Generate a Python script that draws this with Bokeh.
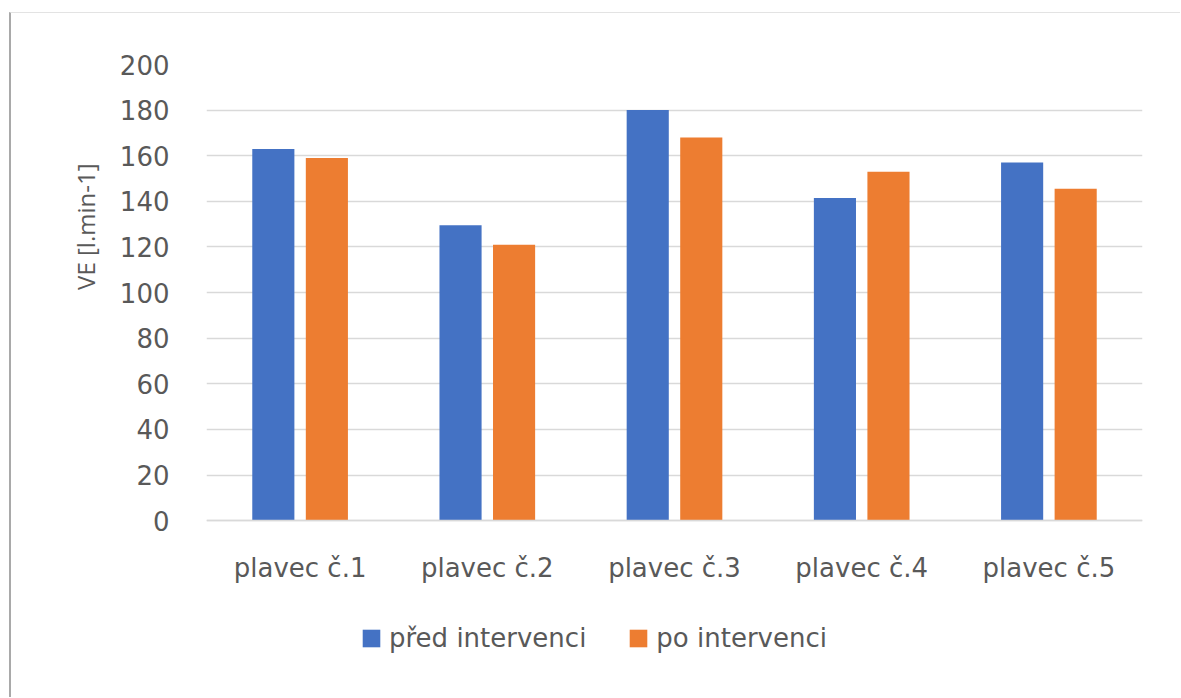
from bokeh.plotting import figure
from bokeh.models import (ColumnDataSource, FactorRange, Range1d, FixedTicker,
                          Legend, LegendItem, Title)
from bokeh.transform import dodge
from bokeh.embed import file_html
from bokeh.resources import INLINE

# VE values per swimmer, before and after the intervention
swimmers = ["plavec č.1", "plavec č.2", "plavec č.3", "plavec č.4", "plavec č.5"]
pred_intervenci = [163, 129.5, 180, 141.5, 157]
po_intervenci = [159, 121, 168, 153, 145.5]
series_labels = ["před intervenci", "po intervenci"]
y_ticks = [0, 20, 40, 60, 80, 100, 120, 140, 160, 180, 200]
y_title = "VE [l.min-1]"

BLUE = "#4472C4"
ORANGE = "#ED7D31"
TEXT = "#595959"
GRID = "#d9d9d9"
FONT = "DejaVu Sans"
FONT_SIZE = "26px"

source = ColumnDataSource(dict(x=swimmers, pred=pred_intervenci, po=po_intervenci))

# the frame reaches down to the bottom edge so the category labels and the
# legend can live inside it, under the zero line
p = figure(
    x_range=FactorRange(*swimmers, range_padding=0),
    y_range=Range1d(-78, 200),
    width=1171, height=685,
    output_backend="svg", toolbar_location=None,
    min_border_left=195, min_border_right=40,
    min_border_top=51, min_border_bottom=0,
)
p.styles = {
    "margin-left": "9px",
    "margin-top": "12px",
    "border-left": "2px solid #a9a9a9",
    "border-top": "1px solid #e3e3e3",
}
p.outline_line_color = None
p.background_fill_color = "white"
p.border_fill_color = "white"

r_pred = p.vbar(x=dodge("x", -0.143, range=p.x_range), top="pred", width=0.225,
                source=source, color=BLUE, line_color=None)
r_po = p.vbar(x=dodge("x", 0.143, range=p.x_range), top="po", width=0.225,
              source=source, color=ORANGE, line_color=None)

# grid
p.xgrid.grid_line_color = None
p.ygrid.ticker = FixedTicker(ticks=y_ticks)
p.ygrid.grid_line_color = GRID
p.ygrid.grid_line_width = 1.5

# y axis
p.yaxis.ticker = FixedTicker(ticks=y_ticks)
p.yaxis.axis_line_color = None
p.yaxis.major_tick_line_color = None
p.yaxis.minor_tick_line_color = None
p.yaxis.major_label_text_font = FONT
p.yaxis.major_label_text_font_size = FONT_SIZE
p.yaxis.major_label_text_color = TEXT
p.yaxis.major_label_standoff = 31

# y axis title
y_label = Title(text=y_title, align="right", offset=99, standoff=29,
                text_font="Open Sans", text_font_style="normal",
                text_font_size="24px", text_color=TEXT)
p.add_layout(y_label, "left")

# x axis drawn on the zero line
p.xaxis.fixed_location = 0
p.xaxis.axis_line_color = GRID
p.xaxis.axis_line_width = 1.5
p.xaxis.major_tick_line_color = None
p.xaxis.minor_tick_line_color = None
p.xaxis.major_label_text_font = FONT
p.xaxis.major_label_text_font_size = FONT_SIZE
p.xaxis.major_label_text_color = TEXT
p.xaxis.major_label_standoff = 26

legend = Legend(
    items=[LegendItem(label=series_labels[0], renderers=[r_pred]),
           LegendItem(label=series_labels[1], renderers=[r_po])],
    orientation="horizontal",
    location=(154, 45),
    padding=0, margin=0, spacing=41,
    glyph_width=22, glyph_height=22,
    label_standoff=7, label_height=30,
    label_text_font=FONT, label_text_font_size=FONT_SIZE,
    label_text_color=TEXT,
    border_line_color=None, background_fill_alpha=0,
)
p.add_layout(legend, "center")

open("out.html", "w").write(file_html(p, INLINE))
